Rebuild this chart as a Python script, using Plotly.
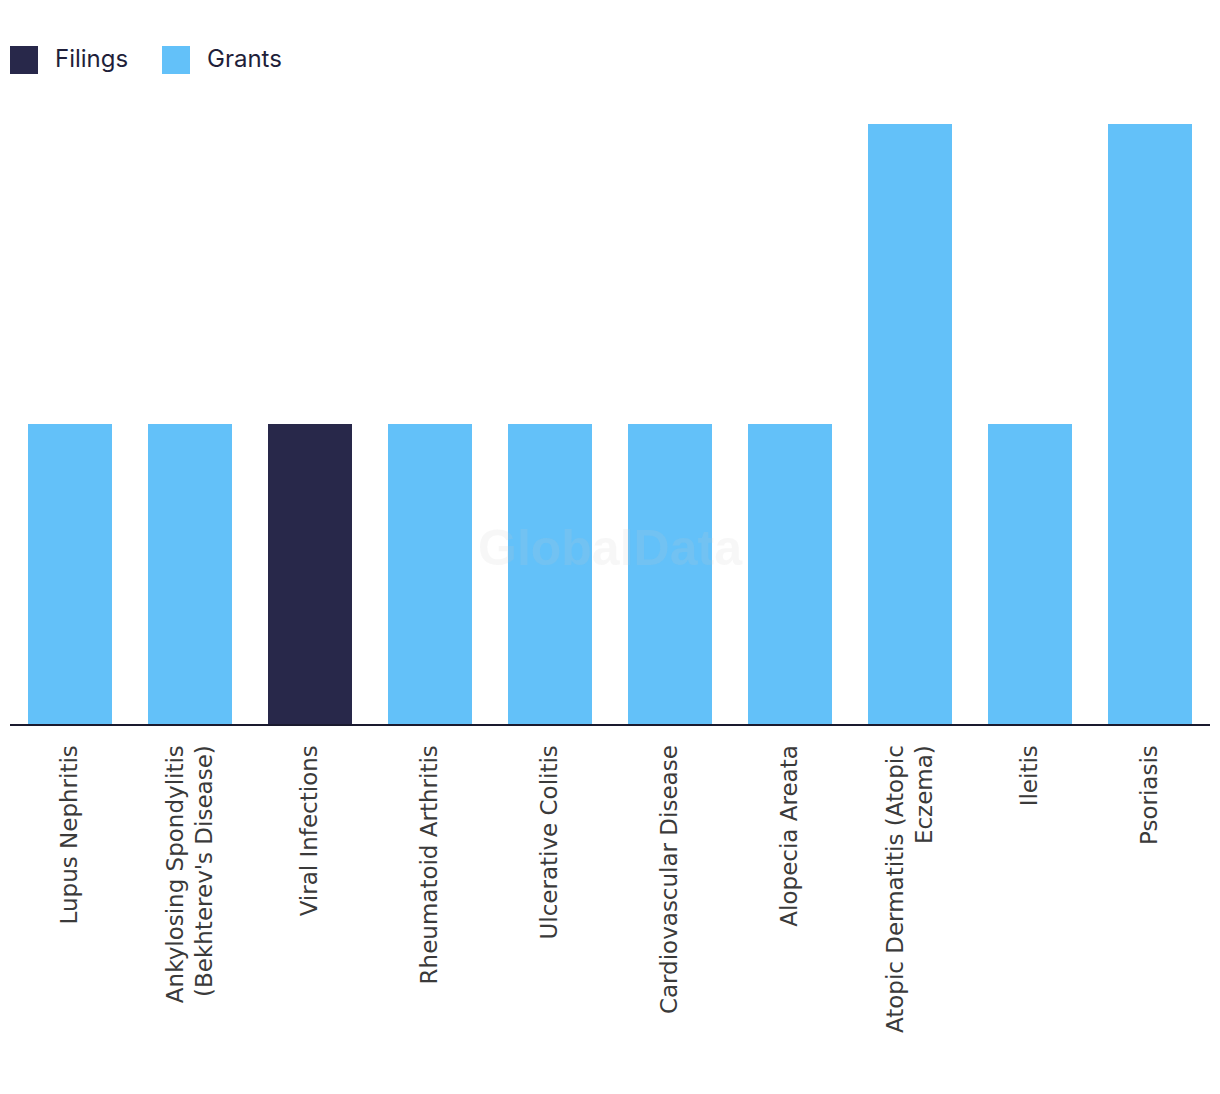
import plotly.graph_objects as go

categories = [
    "Lupus Nephritis",
    "Ankylosing Spondylitis<br>(Bekhterev's Disease)",
    "Viral Infections",
    "Rheumatoid Arthritis",
    "Ulcerative Colitis",
    "Cardiovascular Disease",
    "Alopecia Areata",
    "Atopic Dermatitis (Atopic<br>Eczema)",
    "Ileitis",
    "Psoriasis",
]
filings = [0, 0, 1, 0, 0, 0, 0, 0, 0, 0]
grants = [1, 1, 0, 1, 1, 1, 1, 2, 1, 2]
series_names = ["Filings", "Grants"]
series_colors = ["#28284a", "#63c1f9"]

fig = go.Figure()
for name, vals, col in zip(series_names, [filings, grants], series_colors):
    fig.add_trace(go.Bar(x=categories, y=vals, name=name, marker_color=col,
                         marker_line_width=0, showlegend=False))

# page has an 8px body margin; compensate so the plot area lands at page x 10..1210, y 124..724
W, H = 1204, 1078
ml, mr, mt = 2, 2, 116
ph = 600
mb = H - mt - ph
PX0, PY0, PW, PH = 10, 124, 1200, 600

def px_x(x):
    return (x - PX0) / PW

def px_y(y):
    return 1 + (PY0 - y) / PH

shapes = []
annotations = []
leg_x = [10, 162]
for i, (name, col) in enumerate(zip(series_names, series_colors)):
    x0 = leg_x[i]
    shapes.append(dict(type="rect", xref="paper", yref="paper",
                       x0=px_x(x0), x1=px_x(x0 + 28), y0=px_y(74), y1=px_y(46),
                       fillcolor=col, line_width=0))
    annotations.append(dict(text=name, xref="paper", yref="paper",
                            x=px_x(x0 + 43), y=px_y(59), xanchor="left", yanchor="middle",
                            showarrow=False,
                            font=dict(family="Inter, Liberation Sans, sans-serif", size=24, color="#1f1f3a")))

annotations.append(dict(text="<b>GlobalData</b>", xref="paper", yref="paper",
                        x=0.5, y=px_y(548), xanchor="center", yanchor="middle", showarrow=False,
                        font=dict(family="Liberation Sans, Arial, sans-serif", size=50,
                                  color="rgba(200,200,200,0.15)")))

fig.update_layout(
    width=W, height=H,
    margin=dict(l=ml, r=mr, t=mt, b=mb),
    barmode="stack",
    bargap=0.3,
    plot_bgcolor="white",
    paper_bgcolor="white",
    shapes=shapes,
    annotations=annotations,
    showlegend=False,
    xaxis=dict(showline=True, linecolor="#1a1a2e", linewidth=2,
               tickangle=-90, ticks="outside", ticklen=10, tickcolor="rgba(0,0,0,0)",
               tickfont=dict(family="DejaVu Sans, sans-serif", size=23, color="#3a3a3a"),
               showgrid=False, fixedrange=True),
    yaxis=dict(range=[0, 2], visible=False, showgrid=False, fixedrange=True),
)

fig.write_html("out.html")
